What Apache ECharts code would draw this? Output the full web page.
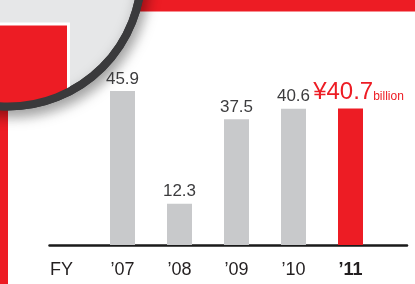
<!DOCTYPE html>
<html>
<head>
<meta charset="utf-8">
<script src="https://cdn.jsdelivr.net/npm/echarts@6/dist/echarts.min.js"></script>
<style>
  html, body { margin: 0; padding: 0; background: #fff; }
  #chart { width: 415px; height: 284px; }
</style>
</head>
<body>
<div id="chart"></div>
<script>
// data
const years = ['\u201907', '\u201908', '\u201909', '\u201910', '\u201911'];
const values = [45.9, 12.3, 37.5, 40.6, 40.7];
const axisTitle = 'FY';
const unitText = 'billion';
const currency = '\u00a5';

const red = '#ed1c24';
const grey = '#c8c9cb';
const font = "'Liberation Sans', Arial, sans-serif";

// circle decoration (top-left)
const cx = 8, cy = -27, ringR = 133.5;

// red panel inside the circle, cut by the ring
const panel = [[-3, 24], [68.5, 24]];
for (let x = 68.5; x >= -3; x -= 2) {
    const r = 132;
    panel.push([x, cy + Math.sqrt(r * r - (x - cx) * (x - cx))]);
}

const barData = values.map(function (v, i) {
    if (i === values.length - 1) {
        return {
            value: v,
            itemStyle: { color: red },
            label: {
                distance: 3.6,
                offset: [8, 0],
                formatter: '{cur|' + currency + v.toFixed(1) + '}{unit|' + unitText + '}',
                rich: {
                    cur: { fontFamily: font, fontSize: 24, color: red, verticalAlign: 'bottom' },
                    unit: { fontFamily: font, fontSize: 12, color: red, verticalAlign: 'bottom', padding: [0, 0, 2, 0] }
                }
            }
        };
    }
    return v;
});

const catData = years.map(function (y, i) {
    if (i === years.length - 1) {
        return { value: y, textStyle: { fontWeight: 'bold' } };
    }
    return y;
});

const chart = echarts.init(document.getElementById('chart'));
chart.setOption({
    animation: false,
    grid: [
        { left: 94, right: 36, top: 77.2, bottom: 39, outerBoundsMode: 'none' },
        { left: 49.5, right: 8, top: 77.2, bottom: 39, outerBoundsMode: 'none' }
    ],
    xAxis: [
        {
            type: 'category',
            gridIndex: 0,
            data: catData,
            axisLine: { show: false },
            axisTick: { show: false },
            axisLabel: {
                margin: 16,
                fontFamily: font,
                fontSize: 18,
                color: '#231f20'
            }
        },
        {
            type: 'value',
            gridIndex: 1,
            min: 0,
            max: 1,
            axisLine: { show: true, lineStyle: { color: '#1a1a1a', width: 2.5 } },
            axisTick: { show: false },
            axisLabel: { show: false },
            splitLine: { show: false }
        }
    ],
    yAxis: [
        { type: 'value', gridIndex: 0, min: 0, max: 50, show: false },
        { type: 'value', gridIndex: 1, min: 0, max: 1, show: false }
    ],
    series: [
        {
            type: 'bar',
            xAxisIndex: 0,
            yAxisIndex: 0,
            barWidth: 25,
            itemStyle: { color: grey },
            label: {
                show: true,
                position: 'top',
                distance: 3.5,
                fontFamily: font,
                fontSize: 17,
                color: '#3c3c3e'
            },
            data: barData
        }
    ],
    graphic: [
        { type: 'rect', shape: { x: 130, y: 0, width: 285, height: 11.5 }, style: { fill: red } },
        { type: 'rect', shape: { x: 0, y: 40, width: 8, height: 244 }, style: { fill: red } },
        {
            type: 'circle',
            shape: { cx: cx, cy: cy, r: ringR },
            style: {
                fill: '#e6e7e8',
                stroke: '#3a3a3c',
                lineWidth: 8,
                shadowBlur: 14,
                shadowColor: 'rgba(0,0,0,0.35)',
                shadowOffsetX: 3,
                shadowOffsetY: 6
            }
        },
        { type: 'polygon', shape: { points: panel }, style: { fill: red, stroke: '#fff', lineWidth: 3 } },
        { type: 'circle', shape: { cx: cx, cy: cy, r: ringR }, style: { fill: 'none', stroke: '#3a3a3c', lineWidth: 8 } },
        {
            type: 'text',
            style: { text: axisTitle, x: 50, y: 270, verticalAlign: 'middle', font: '18px ' + font, fill: '#231f20' }
        }
    ]
});
</script>
</body>
</html>
